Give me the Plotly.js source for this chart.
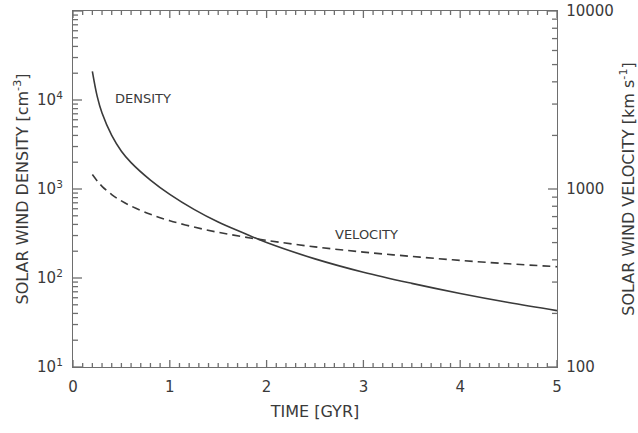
<!DOCTYPE html>
<html>
<head>
<meta charset="utf-8">
<script src="https://cdn.plot.ly/plotly-3.0.1.min.js"></script>
<style>html,body{margin:0;padding:0;background:#fff;}#chart{width:638px;height:433px;}</style>
</head>
<body>
<div id="chart"></div>
<script>
// Values
var timeGyr = [0.2, 0.25, 0.3, 0.4, 0.5, 0.6, 0.8, 1.0, 1.25, 1.5, 1.75, 2.0, 2.5, 3.0, 3.5, 4.0, 4.5, 5.0];
var densityCm3 = [21000, 11000, 7130, 4000, 2660, 1980, 1260, 870, 590, 425, 325, 250, 164, 116, 87, 67, 53, 43];
var velocityKms = [1205, 1110, 1035, 930, 857, 802, 721, 664, 611, 571, 540, 514, 473, 442, 418, 397, 380, 366];

// Tick labels
var xTickVals = [0, 1, 2, 3, 4, 5];
var xTickText = ['0', '1', '2', '3', '4', '5'];
var leftTickVals = [10, 100, 1000, 10000, 100000];
var leftTickText = ['10<sup>1</sup>', '10<sup>2</sup>', '10<sup>3</sup>', '10<sup>4</sup>', '10<sup>5</sup>'];
var rightTickVals = [100, 1000, 10000];
var rightTickText = ['100', '1000', '10000'];
var xMinorCount = 50; // minor marks every 0.1 Gyr

var xRange = [0, 5];
var leftLogRange = [1, 5];
var rightLogRange = [2, 4];

function minorLog(lo, hi) {
  var out = [];
  for (var d = lo; d < hi; d *= 10) {
    for (var k = 2; k <= 9; k++) out.push(d * k);
  }
  return out;
}

var W = 638, H = 433;
var M = {l: 73, r: 81, t: 11, b: 66};
var plotW = W - M.l - M.r, plotH = H - M.t - M.b;

var ink = '#3a3a3a';
var axisCol = '#6e6e6e';
var fontFam = 'DejaVu Sans, Arial, sans-serif';

// Inward tick marks, built from the tick arrays and drawn as line traces
var xtX = [], xtY = [], ltX = [], ltY = [], rtX = [], rtY = [];
var yLo = Math.pow(10, leftLogRange[0]), yHi = Math.pow(10, leftLogRange[1]);
function pxToLogFactor(px, r) { return Math.pow(10, px * (r[1] - r[0]) / plotH); }
for (var i = 0; i <= xMinorCount; i++) {
  var xv = xRange[0] + (xRange[1] - xRange[0]) * i / xMinorCount;
  var len = (i % 10 === 0) ? 7 : 4;
  var f = pxToLogFactor(len, leftLogRange);
  xtX.push(xv, xv, null, xv, xv, null);
  xtY.push(yLo, yLo * f, null, yHi, yHi / f, null);
}
function xLen(px) { return px * (xRange[1] - xRange[0]) / plotW; }
leftTickVals.forEach(function (v) { ltX.push(xRange[0], xRange[0] + xLen(9), null); ltY.push(v, v, null); });
minorLog(10, 100000).forEach(function (v) { ltX.push(xRange[0], xRange[0] + xLen(5), null); ltY.push(v, v, null); });
rightTickVals.forEach(function (v) { rtX.push(xRange[1], xRange[1] - xLen(9), null); rtY.push(v, v, null); });
minorLog(100, 10000).forEach(function (v) { rtX.push(xRange[1], xRange[1] - xLen(5), null); rtY.push(v, v, null); });

var tickLine = {color: axisCol, width: 1.3};
var traces = [
  {x: timeGyr, y: densityCm3, type: 'scatter', mode: 'lines', xaxis: 'x', yaxis: 'y',
   line: {color: ink, width: 1.6, shape: 'spline', smoothing: 1}, hoverinfo: 'skip', showlegend: false},
  {x: timeGyr, y: velocityKms, type: 'scatter', mode: 'lines', xaxis: 'x', yaxis: 'y2',
   line: {color: ink, width: 1.6, dash: '8px,5px', shape: 'spline', smoothing: 1}, hoverinfo: 'skip', showlegend: false},
  {x: xtX, y: xtY, type: 'scatter', mode: 'lines', xaxis: 'x', yaxis: 'y', connectgaps: false, cliponaxis: false,
   line: tickLine, hoverinfo: 'skip', showlegend: false},
  {x: ltX, y: ltY, type: 'scatter', mode: 'lines', xaxis: 'x', yaxis: 'y', connectgaps: false, cliponaxis: false,
   line: tickLine, hoverinfo: 'skip', showlegend: false},
  {x: rtX, y: rtY, type: 'scatter', mode: 'lines', xaxis: 'x', yaxis: 'y2', connectgaps: false, cliponaxis: false,
   line: tickLine, hoverinfo: 'skip', showlegend: false}
];

function baseAxis(extra) {
  var o = {showgrid: false, zeroline: false, showline: true, linecolor: axisCol, linewidth: 1.3,
           ticks: '', fixedrange: true,
           tickfont: {family: fontFam, size: 15, color: ink}};
  for (var k in extra) o[k] = extra[k];
  return o;
}

var layout = {
  width: W, height: H,
  margin: M,
  paper_bgcolor: '#fff', plot_bgcolor: '#fff',
  font: {family: fontFam, size: 14, color: ink},
  showlegend: false, hovermode: false, dragmode: false,
  xaxis: baseAxis({
    range: xRange, tickmode: 'array', tickvals: xTickVals, ticktext: xTickText,
    mirror: true, anchor: 'y', ticklabelstandoff: 6,
    title: {text: 'TIME [GYR]', font: {family: fontFam, size: 16, color: ink}, standoff: 10}
  }),
  yaxis: baseAxis({
    type: 'log', range: leftLogRange, anchor: 'x', side: 'left',
    tickmode: 'array', tickvals: leftTickVals, ticktext: leftTickText,
    ticklabelstandoff: 6,
    title: {text: 'SOLAR WIND DENSITY [cm<sup>-3</sup>]', font: {family: fontFam, size: 16, color: ink}, standoff: 4}
  }),
  yaxis2: baseAxis({
    type: 'log', range: rightLogRange, overlaying: 'y', anchor: 'x', side: 'right',
    tickmode: 'array', tickvals: rightTickVals, ticktext: rightTickText,
    ticklabelstandoff: 5,
    title: {text: 'SOLAR WIND VELOCITY [km s<sup>-1</sup>]', font: {family: fontFam, size: 16, color: ink}, standoff: 10}
  }),
  annotations: [
    {x: 0.72, y: Math.log10(10500), xref: 'x', yref: 'y', text: 'DENSITY', showarrow: false,
     font: {family: fontFam, size: 13, color: ink}},
    {x: 3.03, y: Math.log10(312), xref: 'x', yref: 'y', text: 'VELOCITY', showarrow: false,
     font: {family: fontFam, size: 13, color: ink}}
  ]
};

Plotly.newPlot('chart', traces, layout, {displayModeBar: false, scrollZoom: false});
</script>
</body>
</html>
